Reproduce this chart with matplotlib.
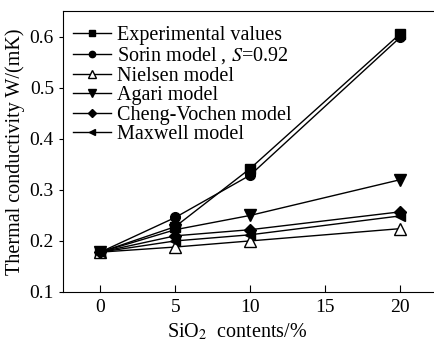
import matplotlib
matplotlib.use("Agg")
import matplotlib.pyplot as plt

plt.rcParams['font.family'] = ['Liberation Serif', 'DejaVu Serif']
plt.rcParams['mathtext.fontset'] = 'stix'

x = [0, 5, 10, 20]
experimental = [0.178, 0.228, 0.342, 0.606]
sorin = [0.178, 0.246, 0.329, 0.599]
nielsen = [0.178, 0.188, 0.200, 0.224]
agari = [0.178, 0.222, 0.250, 0.320]
cheng = [0.178, 0.210, 0.222, 0.257]
maxwell = [0.178, 0.200, 0.212, 0.249]

labels = ["Experimental values", "Sorin model , $S$=0.92", "Nielsen model",
          "Agari model", "Cheng-Vochen model", "Maxwell model"]

fig = plt.figure(figsize=(4.34, 3.43), dpi=100)
ax = fig.add_axes([0.145, 0.149, 0.863, 0.819])

ax.plot(x, experimental, 'k-s', ms=7, lw=1, label=labels[0])
ax.plot(x, sorin, 'k-o', ms=7, lw=1, label=labels[1])
ax.plot(x, nielsen, 'k-^', ms=8, lw=1, mfc='white', label=labels[2])
ax.plot(x, agari, 'k-v', ms=8, lw=1, label=labels[3])
ax.plot(x, cheng, 'k-D', ms=6.5, lw=1, label=labels[4])
ax.plot(x, maxwell, 'k-<', ms=7, lw=1, label=labels[5])

ax.set_xlim(-2.5, 22.5)
ax.set_ylim(0.1, 0.651)
ax.set_xticks([0, 5, 10, 15, 20])
ax.set_yticks([0.1, 0.2, 0.3, 0.4, 0.5, 0.6])
ax.tick_params(axis='x', direction='in', length=5, labelsize=14, pad=5)
ax.tick_params(axis='y', direction='out', length=3, labelsize=14)
ax.spines['right'].set_visible(False)

ax.set_xlabel("SiO$_2$  contents/%", fontsize=14.5, labelpad=1)
ax.xaxis.set_label_coords(0.465, -0.105)
ax.set_ylabel("Thermal conductivity W/(mK)", fontsize=14.5, labelpad=3)

leg = ax.legend(loc='upper left', bbox_to_anchor=(0.011, 0.968), frameon=False,
                fontsize=14.5, markerscale=0.65, handlelength=1.9,
                handletextpad=0.3, labelspacing=0.02, borderaxespad=0,
                borderpad=0.3)

fig.savefig("out.png", dpi=100)
